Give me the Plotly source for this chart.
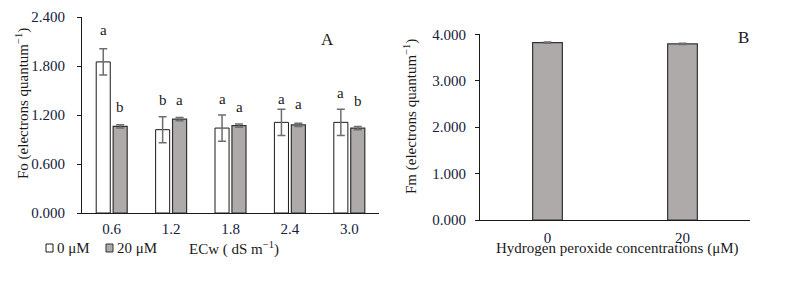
import plotly.graph_objects as go

# Page is offset by the browser's default 8px body margin; lay out in page pixels.
OFF = 8
W, H = 781, 267

# ---- Panel A data ----
ecw = ["0.6", "1.2", "1.8", "2.4", "3.0"]
fo_0uM = [1.85, 1.02, 1.04, 1.11, 1.11]
fo_0uM_err = [0.16, 0.16, 0.16, 0.16, 0.16]
fo_20uM = [1.06, 1.15, 1.07, 1.08, 1.04]
fo_20uM_err = [0.02, 0.02, 0.02, 0.02, 0.02]
letters_0uM = ["a", "b", "a", "a", "a"]
letters_0uM_y = [2.24, 1.38, 1.40, 1.40, 1.47]
letters_20uM = ["b", "a", "a", "a", "b"]
letters_20uM_y = [1.30, 1.38, 1.30, 1.33, 1.37]
fo_ticks = [0.0, 0.6, 1.2, 1.8, 2.4]
fo_ticktext = ["0.000", "0.600", "1.200", "1.800", "2.400"]

# ---- Panel B data ----
h2o2 = ["0", "20"]
fm = [3821, 3793]
fm_err = [12, 12]
fm_letters = ["a", "b"]
fm_letters_y = [4295, 4295]
fm_ticks = [0, 1000, 2000, 3000, 4000]
fm_ticktext = ["0.000", "1.000", "2.000", "3.000", "4.000"]

FONT = "Liberation Serif"
TICKC = "#14203a"
TXT = "#1a1a1a"
GRAY = "#aeaaaa"
ERRC = "#6e6e6e"

def px(x):
    return (x - OFF) / W

def py(y):
    return 1 - (y - OFF) / H

fig = go.Figure()

fig.add_trace(go.Bar(
    x=ecw, y=fo_0uM, name="0 μM", xaxis="x", yaxis="y", showlegend=False,
    marker=dict(color="white", line=dict(color="#1a1a1a", width=1)),
    error_y=dict(type="data", array=fo_0uM_err, color=ERRC, thickness=1.5, width=4),
))
fig.add_trace(go.Bar(
    x=ecw, y=fo_20uM, name="20 μM", xaxis="x", yaxis="y", showlegend=False,
    marker=dict(color=GRAY, line=dict(color="#333333", width=1.2)),
    error_y=dict(type="data", array=fo_20uM_err, color=ERRC, thickness=1.5, width=4),
))
fig.add_trace(go.Bar(
    x=h2o2, y=fm, name="Fm", xaxis="x2", yaxis="y2", showlegend=False,
    width=0.22,
    marker=dict(color=GRAY, line=dict(color="#333333", width=1.2)),
    error_y=dict(type="data", array=fm_err, color=ERRC, thickness=1.5, width=4),
))

def txt(size):
    return dict(family=FONT, size=size, color=TXT)

ann = []
# significance letters: category index positions
for i, (t, yv) in enumerate(zip(letters_0uM, letters_0uM_y)):
    ann.append(dict(x=i, y=yv, xref="x", yref="y", text=t, showarrow=False,
                    xanchor="center", yanchor="middle", xshift=-8.5, font=txt(15)))
for i, (t, yv) in enumerate(zip(letters_20uM, letters_20uM_y)):
    ann.append(dict(x=i, y=yv, xref="x", yref="y", text=t, showarrow=False,
                    xanchor="center", yanchor="middle", xshift=8.5, font=txt(15)))
for i, (t, yv) in enumerate(zip(fm_letters, fm_letters_y)):
    ann.append(dict(x=i, y=yv, xref="x2", yref="y2", text=t, showarrow=False,
                    xanchor="center", yanchor="middle", font=txt(15)))

def pann(x, y, text, size, **kw):
    d = dict(x=px(x), y=py(y), xref="paper", yref="paper", text=text, showarrow=False,
             xanchor="center", yanchor="middle", font=txt(size))
    d.update(kw)
    return d

ann.append(pann(327, 40, "A", 17))
ann.append(pann(743, 37, "B", 17))
ann.append(pann(22, 104, "Fo (electrons quantum<sup>−1</sup>)", 15, textangle=-90))
ann.append(pann(410, 117, "Fm (electrons quantum<sup>−1</sup>)", 15, textangle=-90))
ann.append(pann(234, 248, "ECw ( dS m<sup>−1</sup>)", 15))
ann.append(pann(617, 248, "Hydrogen peroxide concentrations (μM)", 15))
ann.append(pann(55, 248, "0 μM", 15, xanchor="left"))
ann.append(pann(115, 248, "20 μM", 15, xanchor="left"))

# legend swatches
shapes = [
    dict(type="rect", xref="paper", yref="paper", x0=px(46), x1=px(53), y0=py(252), y1=py(244),
         fillcolor="white", line=dict(color="#1a1a1a", width=1)),
    dict(type="rect", xref="paper", yref="paper", x0=px(106), x1=px(113), y0=py(252), y1=py(244),
         fillcolor=GRAY, line=dict(color="#333333", width=1)),
]

axis_common = dict(showgrid=False, zeroline=False, showline=True, linecolor="#1a1a1a",
                   linewidth=1, automargin=False,
                   tickfont=dict(family=FONT, size=15, color=TICKC))

fig.update_layout(
    template="none",
    width=W, height=H,
    margin=dict(l=0, r=0, t=0, b=0, pad=0),
    paper_bgcolor="white", plot_bgcolor="white",
    barmode="group", bargap=0.43, bargroupgap=0.17,
    font=dict(family=FONT, size=15, color=TXT),
    showlegend=False,
    xaxis=dict(domain=[px(82), px(379)], anchor="y", type="category", range=[-0.5, 4.5],
               ticks="", ticklabelstandoff=2, **axis_common),
    yaxis=dict(domain=[py(213), py(17)], anchor="x", range=[0, 2.4],
               tickvals=fo_ticks, ticktext=fo_ticktext, ticks="outside", ticklen=4,
               tickcolor="#1a1a1a", ticklabelstandoff=9, **axis_common),
    xaxis2=dict(domain=[px(480), px(750)], anchor="y2", type="category", range=[-0.5, 1.5],
                ticks="", ticklabelstandoff=4, **axis_common),
    yaxis2=dict(domain=[py(220), py(34.3)], anchor="x2", range=[0, 4000],
                tickvals=fm_ticks, ticktext=fm_ticktext, ticks="outside", ticklen=4,
                tickcolor="#1a1a1a", ticklabelstandoff=6, **axis_common),
    shapes=shapes,
    annotations=ann,
)

fig.write_html("out.html")
